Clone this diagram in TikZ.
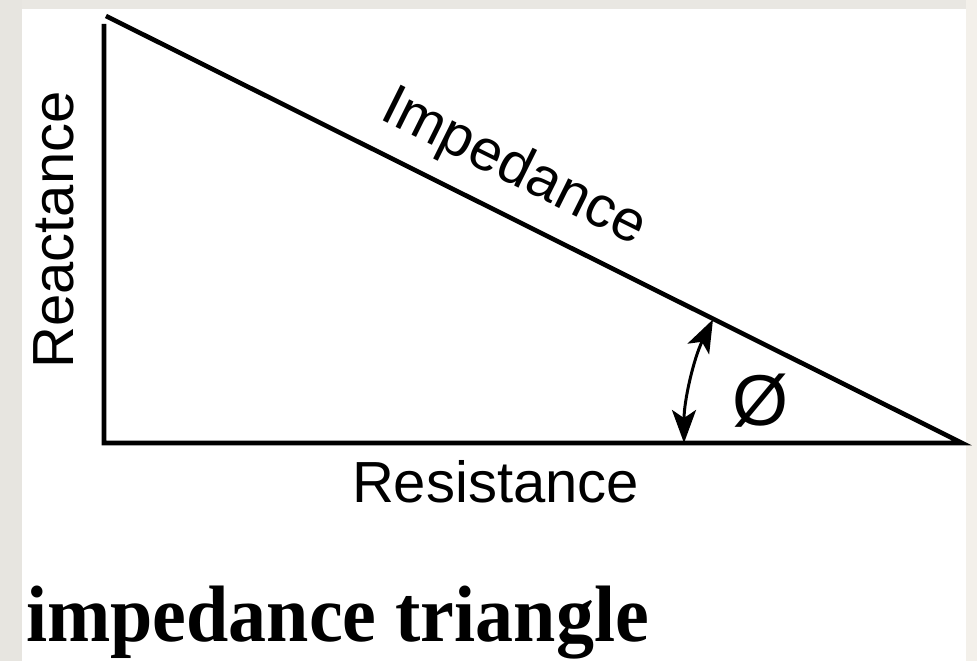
\documentclass[tikz,border=0pt]{standalone}
\usepackage{fontspec}
\setmainfont{Liberation Sans}
\newfontfamily\titlefont{Liberation Serif}
\usetikzlibrary{arrows.meta}
\definecolor{frameL}{HTML}{E7E5E0}
\definecolor{frameR}{HTML}{F3F0EA}
\definecolor{frameT}{HTML}{E9E7E2}
\tikzset{
  side/.style={line width=4.6pt, line join=miter, black},
  axislabel/.style={inner sep=0pt, font=\fontsize{58}{60}\selectfont},
  tipshape/.tip={Stealth[length=33pt,width=24pt,inset=8pt]},
  anglearrow/.style={line width=3pt, tipshape-tipshape}
}
\begin{document}
\begin{tikzpicture}[x=1pt,y=1pt]
\useasboundingbox (0,0) rectangle (977,661);
% frame
\fill[frameT] (0,0) rectangle (977,661);
\fill[frameL] (0,0) rectangle (22,661);
\fill[frameR] (966,0) rectangle (977,661);
\fill[white] (22,0) rectangle (966,652);
% vertices
\coordinate (top) at (106,645);
\coordinate (vtop) at (104,637);
\coordinate (corner) at (104,218);
\coordinate (right) at (962,218);
\coordinate (arcstart) at (684,218);
% triangle
\draw[side] (vtop) -- (corner) -- (right) -- (top);
% angle arrow
\draw[anglearrow] (arcstart) arc[start angle=180, end angle=153.6, radius=278];
% labels
\node[axislabel, anchor=base] (phi) at (760,235) {\fontsize{72}{74}\selectfont Ø};
\node[axislabel, anchor=base] (res) at (495.5,158) {Resistance};
\node[axislabel, anchor=base, rotate=90] (rea) at (73,431) {Reactance};
\node[axislabel, anchor=base west, rotate=-26.43] (imp) at (378,543) {Impedance};
\node[inner sep=0pt, anchor=base west] (title) at (26,19)
  {\scalebox{0.95}[1]{\titlefont\bfseries\fontsize{80}{82}\selectfont impedance triangle}};
\end{tikzpicture}
\end{document}
